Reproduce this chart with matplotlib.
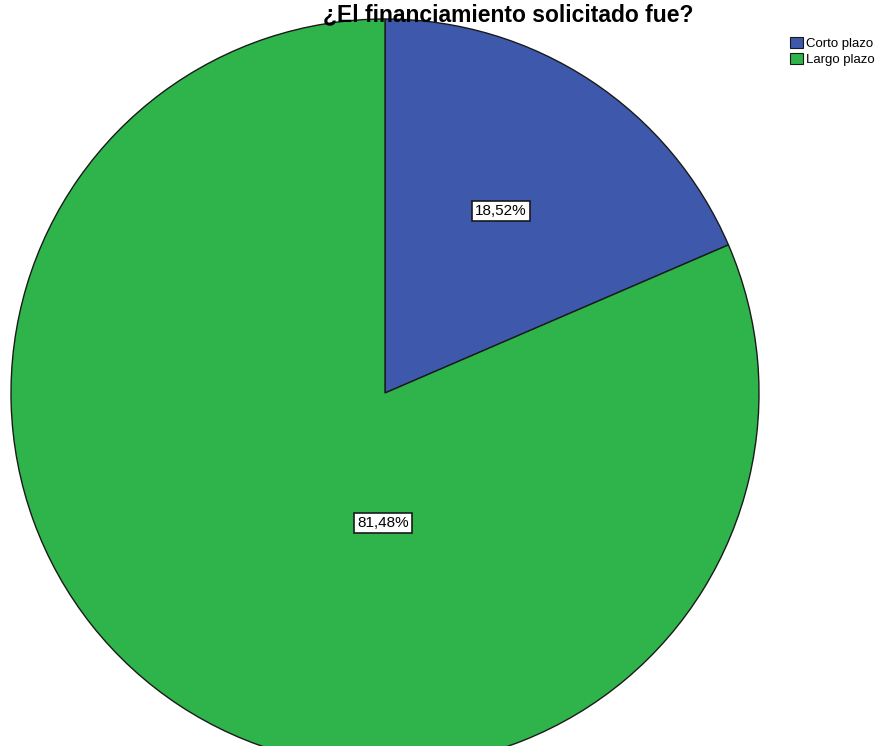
import matplotlib.pyplot as plt
from matplotlib.patches import Patch

# data
categories = ["Corto plazo", "Largo plazo"]
shares = [18.52, 81.48]
label_texts = ["18,52%", "81,48%"]
colors = ["#3E58AC", "#2EB44A"]
title = "¿El financiamiento solicitado fue?"

plt.rcParams["font.family"] = ["Liberation Sans", "DejaVu Sans"]

W, H = 879, 746
fig = plt.figure(figsize=(W / 100, H / 100), dpi=100)
ax = fig.add_axes([0, 0, 1, 1])

# pixel-based frame: pie centre at (385, 393) from top-left, radius 374 px
cx, cy, r = 385, 393, 374
wedges, _ = ax.pie(
    shares,
    colors=colors,
    startangle=90,
    counterclock=False,
    radius=r,
    center=(cx, H - cy),
    wedgeprops=dict(edgecolor="#1a1a1a", linewidth=1.0),
)
ax.set_xlim(0, W)
ax.set_ylim(0, H)
ax.set_aspect("auto")
ax.axis("off")

# label positions (pixels from top-left), placed as in the original
label_pos = [(501, 211), (383, 523)]
for txt, (lx, ly) in zip(label_texts, label_pos):
    ax.text(lx, H - ly, txt, ha="center", va="center", fontsize=11,
            bbox=dict(boxstyle="square,pad=0.2", fc="white", ec="#1a1a1a", lw=1.2))

fig.text(508 / W, 1 - 21 / H, title, ha="center", va="baseline",
         fontsize=16.5, fontweight="bold", zorder=5)

handles = [Patch(facecolor=c, edgecolor="#1a1a1a", linewidth=0.8) for c in colors]
fig.legend(handles, categories, loc="upper left", bbox_to_anchor=(790 / W, 1 - 37 / H),
           frameon=False, fontsize=9.5, handlelength=0.95, handleheight=0.95,
           handletextpad=0.25, labelspacing=0.2, borderpad=0, borderaxespad=0)

fig.savefig("out.png", dpi=100)
